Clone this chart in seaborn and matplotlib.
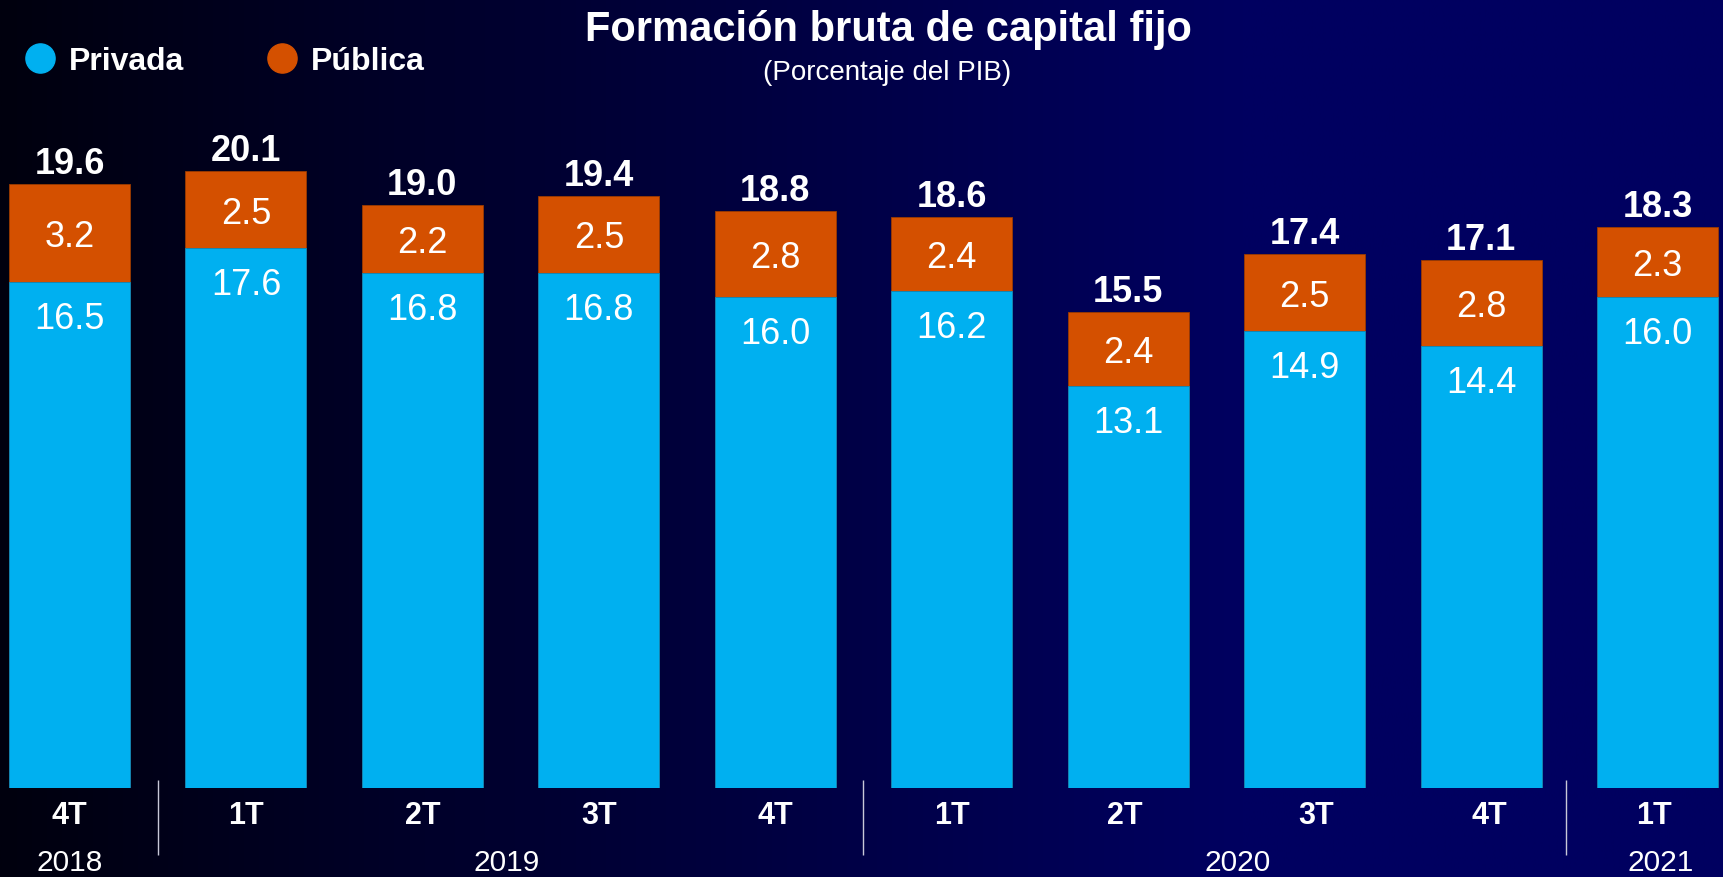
import numpy as np
import pandas as pd
import matplotlib
matplotlib.use("Agg")
import matplotlib.pyplot as plt
import seaborn as sns
from matplotlib.lines import Line2D
from matplotlib.transforms import blended_transform_factory

# ---------------- data ----------------
periods = ["2018-4T", "2019-1T", "2019-2T", "2019-3T", "2019-4T",
           "2020-1T", "2020-2T", "2020-3T", "2020-4T", "2021-1T"]
quarters = ["4T", "1T", "2T", "3T", "4T", "1T", "2T", "3T", "4T", "1T"]
privada = [16.5, 17.6, 16.8, 16.8, 16.0, 16.2, 13.1, 14.9, 14.4, 16.0]
publica = [3.2, 2.5, 2.2, 2.5, 2.8, 2.4, 2.4, 2.5, 2.8, 2.3]
total = [19.6, 20.1, 19.0, 19.4, 18.8, 18.6, 15.5, 17.4, 17.1, 18.3]
years = ["2018", "2019", "2020", "2021"]

title = "Formación bruta de capital fijo"
subtitle = "(Porcentaje del PIB)"
series_names = ["Privada", "Pública"]

# ---------------- style ----------------
C_PRIV = "#00B0F0"
C_PUB = "#D45000"
FONT = ["Liberation Sans", "DejaVu Sans"]

sns.set_theme(style="white")
plt.rcParams["font.family"] = FONT

W, H, DPI = 1723, 878, 100
fig = plt.figure(figsize=(W / DPI, H / DPI), dpi=DPI)

# background gradient (black -> navy)
bg = fig.add_axes([0, 0, 1, 1], zorder=-10)
xs = np.linspace(0, 1, 400)
blue = 14 + 82 * np.clip(xs / 0.72, 0, 1)
grad = np.zeros((2, len(xs), 3))
grad[..., 2] = blue / 255.0
bg.imshow(grad, aspect="auto", extent=[0, 1, 0, 1], interpolation="bilinear")
bg.set_axis_off()

# main axes
bottom_px = 788.5
px_per_unit = 30.65
ymax = 22
ax_h = ymax * px_per_unit / H
ax = fig.add_axes([0, (H - bottom_px) / H, 1, ax_h])
ax.set_facecolor("none")

df = pd.DataFrame({"periodo": periods, "privada": privada, "publica": publica})
df["acumulado"] = df["privada"] + df["publica"]

bar_w = 0.686
sns.barplot(data=df, x="periodo", y="acumulado", color=C_PUB, saturation=1,
            width=bar_w, ax=ax, edgecolor="#9a3a00", linewidth=0.6, zorder=2)
sns.barplot(data=df, x="periodo", y="privada", color=C_PRIV, saturation=1,
            width=bar_w, ax=ax, edgecolor="#0a86b8", linewidth=0.6, zorder=3)

spacing = 176.44
ax.set_xlim(-69.5 / spacing, (W - 69.5) / spacing)
ax.set_ylim(0, ymax)
ax.set_axis_off()

# value labels
for i in range(len(periods)):
    p, q, t = privada[i], publica[i], total[i]
    ax.annotate(f"{p:.1f}", xy=(i, p), xytext=(0, -46), textcoords="offset pixels",
                ha="center", va="baseline", fontsize=26, color="white", zorder=5)
    ax.annotate(f"{q:.1f}", xy=(i, p + q / 2), xytext=(0, -13), textcoords="offset pixels",
                ha="center", va="baseline", fontsize=26, color="white", zorder=5)
    ax.annotate(f"{t:.1f}", xy=(i, p + q), xytext=(0, 11), textcoords="offset pixels",
                ha="center", va="baseline", fontsize=26, fontweight="bold",
                color="white", zorder=5)

# category labels (quarters + years)
trans = blended_transform_factory(ax.transData, fig.transFigure)
q_nudge = [0, 0, 0, 0, 0, 0, -0.02, 0.068, 0.045, -0.02]
for i, qlab in enumerate(quarters):
    ax.text(i + q_nudge[i], 1 - 824 / H, qlab, transform=trans, ha="center",
            va="baseline", fontsize=22, fontweight="bold", color="white",
            clip_on=False)

year_x = [0.0, 2.48, 6.62, 9.02]
for yx, ylab in zip(year_x, years):
    ax.text(yx, 1 - 871 / H, ylab, transform=trans, ha="center", va="baseline",
            fontsize=21.5, color="white", clip_on=False)

# year dividers
ax.vlines([0.5, 4.5, 8.48], 1 - 856 / H, 1 - 781 / H, transform=trans,
          colors="#C8C8D8", linewidth=1.0, clip_on=False)

# titles
fig.text(888 / W, 1 - 40.7 / H, title, ha="center", va="baseline",
         fontsize=30, fontweight="bold", color="white")
fig.text(887 / W, 1 - 80 / H, subtitle, ha="center", va="baseline",
         fontsize=20, color="white")

# legend
handles = [Line2D([], [], marker="o", linestyle="none", markersize=21,
                  markerfacecolor=c, markeredgecolor=c) for c in (C_PRIV, C_PUB)]
leg = fig.legend(handles, series_names, loc="center left",
                 bbox_to_anchor=(24 / W, 1 - 62 / H), ncol=2, frameon=False,
                 handlelength=1.0, handletextpad=0.4, columnspacing=2.57,
                 borderpad=0, borderaxespad=0,
                 prop={"family": FONT, "weight": "bold", "size": 23})
for txt in leg.get_texts():
    txt.set_color("white")

fig.savefig("out.png", dpi=DPI)
